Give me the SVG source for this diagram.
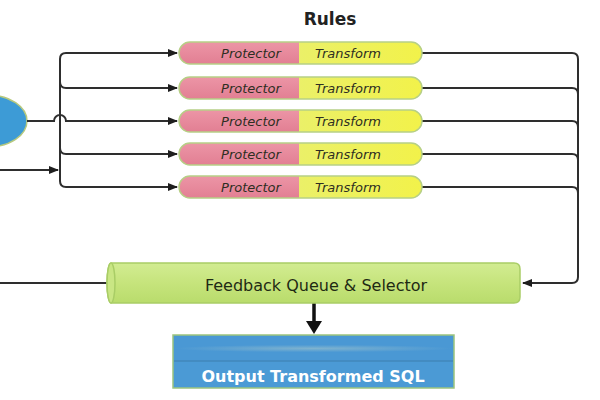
<svg xmlns="http://www.w3.org/2000/svg" width="600" height="400" viewBox="0 0 600 400">
<style>
.conn{fill:none;stroke:#2e2e2e;stroke-width:2}
.pk{fill:url(#gPink)}
.yl{fill:url(#gYel)}
.pillo{fill:none;stroke:#b6cf86;stroke-width:1.5}
.rt{font-family:"DejaVu Sans","Liberation Sans",sans-serif;font-style:italic;font-size:13px;fill:#2e2e22;text-anchor:middle}
.title{font-family:"DejaVu Sans","Liberation Sans",sans-serif;font-weight:bold;font-size:17px;fill:#222;text-anchor:middle}
</style>
<defs>
<linearGradient id="gPink" x1="0" y1="0" x2="0" y2="1"><stop offset="0" stop-color="#ec95a6"/><stop offset="1" stop-color="#e27f93"/></linearGradient>
<linearGradient id="gYel" x1="0" y1="0" x2="1" y2="0"><stop offset="0" stop-color="#e3ee86"/><stop offset="1" stop-color="#f2f24a"/></linearGradient>
<linearGradient id="gCyl" x1="0" y1="0" x2="0" y2="1"><stop offset="0" stop-color="#d2ec92"/><stop offset="0.5" stop-color="#c6e47c"/><stop offset="1" stop-color="#b9dc6c"/></linearGradient>
<radialGradient id="gOut" cx="0.5" cy="0.5" r="0.5" gradientTransform="translate(0,0.5) scale(1,0.3) translate(0,-0.5)"><stop offset="0" stop-color="#7fb3cf"/><stop offset="1" stop-color="#4a98d4"/></radialGradient>
<marker id="ar" markerUnits="userSpaceOnUse" markerWidth="10" markerHeight="10" viewBox="0 0 10 10" refX="9" refY="5" orient="auto"><path d="M0,1 L10,5 L0,9 Z" fill="#1e1e1e"/></marker>
</defs>

<g id="input">
<ellipse cx="-12" cy="121" rx="39" ry="26" fill="#3d9bd6" stroke="#b7c97e" stroke-width="1.5"/>
</g>

<text class="title" x="330" y="25">Rules</text>

<g id="connectors">
<path class="conn" d="M27,121 H54 A6,6 0 0 1 66,121 H177" marker-end="url(#ar)"/>
<path class="conn" d="M0,170 H58" marker-end="url(#ar)"/>
<path class="conn" d="M60,59 V181"/>
<path class="conn" d="M60,59 Q60,53 66,53 H177" marker-end="url(#ar)"/>
<path class="conn" d="M60,82 Q60,88 66,88 H177" marker-end="url(#ar)"/>
<path class="conn" d="M60,148 Q60,154 66,154 H177" marker-end="url(#ar)"/>
<path class="conn" d="M60,181 Q60,187 66,187 H177" marker-end="url(#ar)"/>
<path class="conn" d="M422,53 H572 Q578,53 578,59 V277 Q578,283 572,283 H523" marker-end="url(#ar)"/>
<path class="conn" d="M422,88 H572 Q578,88 578,94"/>
<path class="conn" d="M422,121 H572 Q578,121 578,127"/>
<path class="conn" d="M422,154 H572 Q578,154 578,160"/>
<path class="conn" d="M422,187 H572 Q578,187 578,193"/>
<path class="conn" d="M0,283 H108"/>
<line x1="314" y1="303" x2="314" y2="322" stroke="#111" stroke-width="3.5"/>
<path d="M306,321 L322,321 L314,334 Z" fill="#111"/>
</g>

<g id="rule1" transform="translate(0,42)">
<rect class="yl" x="179" y="0" width="243" height="22" rx="11"/>
<path class="pk" d="M299,0 H190 A11,11 0 0 0 190,22 H299 Z"/>
<rect class="pillo" x="179" y="0" width="243" height="22" rx="11"/>
<text class="rt" x="251" y="16">Protector</text><text class="rt" x="348" y="16">Transform</text>
</g>
<g id="rule2" transform="translate(0,77)">
<rect class="yl" x="179" y="0" width="243" height="22" rx="11"/>
<path class="pk" d="M299,0 H190 A11,11 0 0 0 190,22 H299 Z"/>
<rect class="pillo" x="179" y="0" width="243" height="22" rx="11"/>
<text class="rt" x="251" y="16">Protector</text><text class="rt" x="348" y="16">Transform</text>
</g>
<g id="rule3" transform="translate(0,110)">
<rect class="yl" x="179" y="0" width="243" height="22" rx="11"/>
<path class="pk" d="M299,0 H190 A11,11 0 0 0 190,22 H299 Z"/>
<rect class="pillo" x="179" y="0" width="243" height="22" rx="11"/>
<text class="rt" x="251" y="16">Protector</text><text class="rt" x="348" y="16">Transform</text>
</g>
<g id="rule4" transform="translate(0,143)">
<rect class="yl" x="179" y="0" width="243" height="22" rx="11"/>
<path class="pk" d="M299,0 H190 A11,11 0 0 0 190,22 H299 Z"/>
<rect class="pillo" x="179" y="0" width="243" height="22" rx="11"/>
<text class="rt" x="251" y="16">Protector</text><text class="rt" x="348" y="16">Transform</text>
</g>
<g id="rule5" transform="translate(0,176)">
<rect class="yl" x="179" y="0" width="243" height="22" rx="11"/>
<path class="pk" d="M299,0 H190 A11,11 0 0 0 190,22 H299 Z"/>
<rect class="pillo" x="179" y="0" width="243" height="22" rx="11"/>
<text class="rt" x="251" y="16">Protector</text><text class="rt" x="348" y="16">Transform</text>
</g>

<g id="queue">
<path d="M111,263 H514 Q520,263 520,269 V297 Q520,303 514,303 H111 A4,20 0 0 1 111,263 Z" fill="url(#gCyl)" stroke="#a9cd66" stroke-width="1.5"/>
<ellipse cx="111" cy="283" rx="4" ry="20" fill="#c9e684" stroke="#a9cd66" stroke-width="1.5"/>
<text x="316" y="291" font-family="'DejaVu Sans','Liberation Sans',sans-serif" font-size="16" fill="#1f2a14" text-anchor="middle">Feedback Queue &amp; Selector</text>
</g>

<g id="output">
<rect x="173" y="335" width="281" height="53" fill="#4b9ad5" stroke="#9cc47e" stroke-width="1.5"/>
<rect x="174" y="336" width="279" height="25" fill="url(#gOut)"/>
<line x1="174" y1="361" x2="453" y2="361" stroke="#3d7fae" stroke-width="1"/>
<text x="313" y="382" font-family="'DejaVu Sans','Liberation Sans',sans-serif" font-size="16" font-weight="bold" fill="#ffffff" text-anchor="middle">Output Transformed SQL</text>
</g>
</svg>
